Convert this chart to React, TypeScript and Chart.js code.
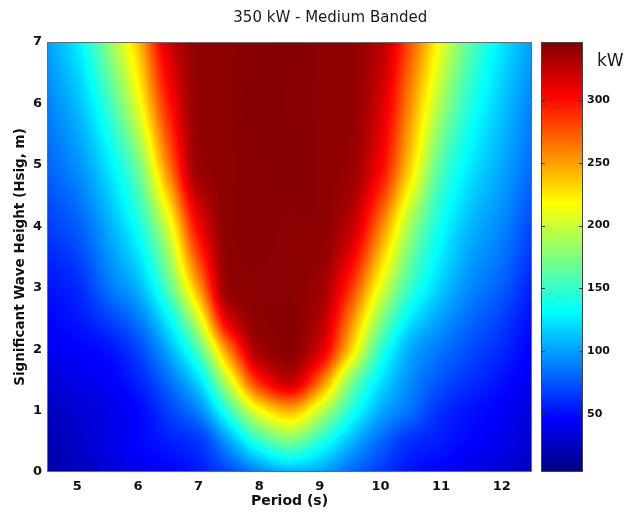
import React, { useEffect, useRef } from 'react';
import { Chart, registerables } from 'chart.js';

Chart.register(...registerables);

const TITLE = '350 kW - Medium Banded';
const X_TITLE = 'Period (s)';
const Y_TITLE = 'Significant Wave Height (Hsig, m)';
const CB_UNIT = 'kW';

const PERIODS = [4.5, 5, 5.5, 6, 6.5, 7, 7.5, 8, 8.5, 9, 9.5, 10, 10.5, 11, 11.5, 12, 12.5];
const HEIGHTS = [0, 0.5, 1, 1.5, 2, 2.5, 3, 4, 5, 6, 7];

// power (kW) per row of wave height, one value per period
const P_H0 = [18, 24, 32, 40, 46, 55, 70, 90, 105, 100, 82, 65, 52, 45, 38, 32, 24];
const P_H05 = [20, 28, 38, 47, 56, 65, 102, 148, 172, 145, 110, 82, 62, 55, 47, 40, 30];
const P_H1 = [25, 32, 38, 48, 68, 92, 150, 215, 244, 200, 145, 105, 84, 62, 52, 45, 35];
const P_H15 = [33, 39, 45, 58, 84, 122, 205, 295, 325, 270, 180, 125, 94, 75, 62, 52, 40];
const P_H2 = [42, 46, 52, 70, 105, 160, 262, 335, 343, 318, 235, 150, 104, 86, 72, 60, 45];
const P_H25 = [47, 54, 68, 88, 130, 205, 318, 342, 343, 330, 262, 180, 126, 100, 82, 68, 50];
const P_H3 = [52, 60, 85, 107, 160, 250, 340, 342, 342, 336, 288, 210, 150, 115, 92, 78, 56];
const P_H4 = [66, 78, 104, 138, 205, 305, 342, 343, 342, 342, 325, 262, 185, 136, 108, 92, 70];
const P_H5 = [80, 95, 124, 170, 262, 338, 342, 343, 344, 342, 338, 305, 232, 160, 125, 104, 82];
const P_H6 = [90, 110, 150, 210, 295, 340, 342, 344, 343, 342, 340, 318, 255, 188, 142, 114, 90];
const P_H7 = [100, 127, 178, 238, 318, 340, 342, 343, 344, 342, 340, 328, 275, 212, 160, 125, 100];

const POWER_GRID = [P_H0, P_H05, P_H1, P_H15, P_H2, P_H25, P_H3, P_H4, P_H5, P_H6, P_H7];

const PERIOD_TICKS = [5, 6, 7, 8, 9, 10, 11, 12];
const HEIGHT_TICKS = [0, 1, 2, 3, 4, 5, 6, 7];
const POWER_TICKS = [50, 100, 150, 200, 250, 300];
const CB_MIN = 4;
const CB_MAX = 346;

const FONT = 'DejaVu Sans';

function clamp01(v: number) {
  return v < 0 ? 0 : v > 1 ? 1 : v;
}

function jet(t: number): [number, number, number] {
  t = clamp01(t);
  const r = clamp01(1.5 - Math.abs(4 * t - 3));
  const g = clamp01(1.5 - Math.abs(4 * t - 2));
  const b = clamp01(1.5 - Math.abs(4 * t - 1));
  return [Math.round(r * 255), Math.round(g * 255), Math.round(b * 255)];
}

function findIdx(arr: number[], v: number) {
  if (v <= arr[0]) return 0;
  if (v >= arr[arr.length - 1]) return arr.length - 2;
  for (let i = 0; i < arr.length - 1; i++) {
    if (v >= arr[i] && v <= arr[i + 1]) return i;
  }
  return arr.length - 2;
}

// monotone cubic (PCHIP) slopes, used for smooth shading between grid nodes
function pchipSlopes(xs: number[], ys: number[]) {
  const n = xs.length;
  const h: number[] = [];
  const d: number[] = [];
  for (let i = 0; i < n - 1; i++) {
    h.push(xs[i + 1] - xs[i]);
    d.push((ys[i + 1] - ys[i]) / h[i]);
  }
  const m: number[] = new Array(n).fill(0);
  m[0] = d[0];
  m[n - 1] = d[n - 2];
  for (let i = 1; i < n - 1; i++) {
    if (d[i - 1] * d[i] <= 0) m[i] = 0;
    else {
      const w1 = 2 * h[i] + h[i - 1];
      const w2 = h[i] + 2 * h[i - 1];
      m[i] = (w1 + w2) / (w1 / d[i - 1] + w2 / d[i]);
    }
  }
  return m;
}

function hermite(xs: number[], ys: number[], m: number[], x: number) {
  const n = xs.length;
  if (x < xs[0]) x = xs[0];
  if (x > xs[n - 1]) x = xs[n - 1];
  const i = findIdx(xs, x);
  const h = xs[i + 1] - xs[i];
  const t = (x - xs[i]) / h;
  const t2 = t * t;
  const t3 = t2 * t;
  return (
    (2 * t3 - 3 * t2 + 1) * ys[i] +
    (t3 - 2 * t2 + t) * h * m[i] +
    (-2 * t3 + 3 * t2) * ys[i + 1] +
    (t3 - t2) * h * m[i + 1]
  );
}

const CB_LEFT_OFF = 9;
const CB_RIGHT_OFF = 51;

const heatmapPlugin = {
  id: 'heatmap',
  beforeDatasetsDraw(chart: any) {
    const { ctx, chartArea, scales } = chart;
    const xs = scales.x;
    const ys = scales.y;
    const cb = scales.cb;
    const left = Math.round(chartArea.left);
    const top = Math.round(chartArea.top);
    const w = Math.round(chartArea.right) - left;
    const h = Math.round(chartArea.bottom) - top;

    const rowSlopes = POWER_GRID.map((row) => pchipSlopes(PERIODS, row));
    const Hs: number[] = [];
    for (let j = 0; j < h; j++) Hs.push(ys.getValueForPixel(top + j + 0.5));

    const off = document.createElement('canvas');
    off.width = w;
    off.height = h;
    const octx = off.getContext('2d') as CanvasRenderingContext2D;
    const img = octx.createImageData(w, h);
    for (let i = 0; i < w; i++) {
      const T = xs.getValueForPixel(left + i + 0.5);
      const colVals = POWER_GRID.map((row, r) => hermite(PERIODS, row, rowSlopes[r], T));
      const colSlopes = pchipSlopes(HEIGHTS, colVals);
      for (let j = 0; j < h; j++) {
        const v = hermite(HEIGHTS, colVals, colSlopes, Hs[j]);
        const [r, g, b] = jet((v - CB_MIN) / (CB_MAX - CB_MIN));
        const k = (j * w + i) * 4;
        img.data[k] = r;
        img.data[k + 1] = g;
        img.data[k + 2] = b;
        img.data[k + 3] = 255;
      }
    }
    octx.putImageData(img, 0, 0);
    ctx.save();
    ctx.drawImage(off, left, top);
    ctx.strokeStyle = '#6a6a6a';
    ctx.lineWidth = 1;
    ctx.strokeRect(left + 0.5, top + 0.5, w - 1, h - 1);

    // colour bar
    const cbx0 = left + w + CB_LEFT_OFF;
    const cbx1 = left + w + CB_RIGHT_OFF;
    for (let j = 0; j < h; j++) {
      const v = cb.getValueForPixel(top + j + 0.5);
      const [r, g, b] = jet((v - CB_MIN) / (CB_MAX - CB_MIN));
      ctx.fillStyle = `rgb(${r},${g},${b})`;
      ctx.fillRect(cbx0, top + j, cbx1 - cbx0, 1);
    }
    ctx.strokeStyle = '#444';
    ctx.strokeRect(cbx0 + 0.5, top + 0.5, cbx1 - cbx0 - 1, h - 1);
    ctx.strokeStyle = '#333';
    for (const tv of POWER_TICKS) {
      const py = Math.round(cb.getPixelForValue(tv)) + 0.5;
      ctx.beginPath();
      ctx.moveTo(cbx0, py);
      ctx.lineTo(cbx0 + 4, py);
      ctx.moveTo(cbx1, py);
      ctx.lineTo(cbx1 - 4, py);
      ctx.stroke();
    }
    ctx.restore();
  },
  afterDraw(chart: any) {
    const { ctx, chartArea } = chart;
    ctx.save();
    ctx.fillStyle = '#1a1a1a';
    ctx.textBaseline = 'middle';
    ctx.font = `17px "${FONT}"`;
    ctx.textAlign = 'left';
    ctx.fillText(CB_UNIT, chartArea.right + 65, chartArea.top + 20);
    ctx.font = `15px "${FONT}"`;
    ctx.textAlign = 'center';
    ctx.fillText(TITLE, chartArea.left + (chartArea.right - chartArea.left) * 0.584, 18);
    ctx.restore();
  },
};

export default function App() {
  const ref = useRef<HTMLCanvasElement | null>(null);

  useEffect(() => {
    document.body.style.margin = '0';
    document.body.style.overflow = 'hidden';
    const canvas = ref.current;
    if (!canvas) return;

    const points: { x: number; y: number }[] = [];
    HEIGHTS.forEach((hh) => PERIODS.forEach((pp) => points.push({ x: pp, y: hh })));

    const tickFont = { family: FONT, size: 13, weight: 'bold' as const };

    const chart = new Chart(canvas, {
      type: 'scatter',
      data: {
        datasets: [
          {
            data: points,
            pointRadius: 0,
            pointHoverRadius: 0,
            showLine: false,
          },
        ],
      },
      plugins: [heatmapPlugin],
      options: {
        responsive: false,
        animation: false,
        events: [],
        layout: { padding: { top: 42, left: 0, right: 0, bottom: 0 } },
        plugins: {
          legend: { display: false },
          tooltip: { enabled: false },
          title: { display: false },
        },
        scales: {
          x: {
            type: 'linear',
            min: 4.5,
            max: 12.5,
            grid: { display: false, drawTicks: false },
            border: { display: false },
            afterBuildTicks: (s: any) => {
              s.ticks = PERIOD_TICKS.map((v) => ({ value: v }));
            },
            afterFit: (s: any) => {
              s.height = 45;
            },
            ticks: {
              color: '#111',
              font: tickFont,
              padding: 7,
              maxRotation: 0,
              autoSkip: false,
            },
            title: {
              display: true,
              text: X_TITLE,
              color: '#111',
              font: { family: FONT, size: 14, weight: 'bold' },
              padding: { top: 0, bottom: 7 },
            },
          },
          y: {
            type: 'linear',
            min: 0,
            max: 7,
            grid: { display: false, drawTicks: false },
            border: { display: false },
            afterBuildTicks: (s: any) => {
              s.ticks = HEIGHT_TICKS.map((v) => ({ value: v }));
            },
            afterFit: (s: any) => {
              s.width = 47;
            },
            ticks: {
              color: '#111',
              font: tickFont,
              padding: 5,
              autoSkip: false,
            },
            title: {
              display: true,
              text: Y_TITLE,
              color: '#111',
              font: { family: FONT, size: 13.5, weight: 'bold' },
              padding: { top: 12, bottom: 0 },
            },
          },
          cb: {
            type: 'linear',
            position: 'right',
            min: CB_MIN,
            max: CB_MAX,
            grid: { display: false, drawTicks: true, tickLength: 52 },
            border: { display: false },
            afterBuildTicks: (s: any) => {
              s.ticks = POWER_TICKS.map((v) => ({ value: v }));
            },
            afterFit: (s: any) => {
              s.width = 97;
            },
            ticks: {
              color: '#111',
              font: { family: FONT, size: 11, weight: 'bold' },
              padding: 3,
              autoSkip: false,
            },
          },
        },
      },
    });
    return () => chart.destroy();
  }, []);

  return <canvas ref={ref} width={629} height={517} style={{ display: 'block' }} />;
}
